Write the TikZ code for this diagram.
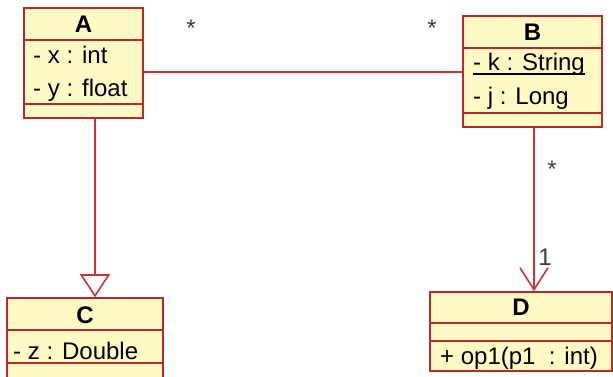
\documentclass[tikz,border=0pt]{standalone}
\usepackage{fontspec}
\setmainfont{Liberation Sans}
\usetikzlibrary{arrows.meta}
\definecolor{bord}{RGB}{185,40,45}
\definecolor{conn}{RGB}{205,50,55}
\definecolor{clsfill}{RGB}{255,250,195}
\definecolor{lbl}{RGB}{60,60,60}
\tikzset{
  cls/.style={draw=bord, fill=clsfill, line width=1.6pt, inner sep=0pt, rectangle},
  sep/.style={draw=bord, line width=1.6pt},
  cname/.style={anchor=base, inner sep=0pt, font=\fontsize{24}{28}\selectfont\bfseries},
  attr/.style={anchor=base west, inner sep=0pt, font=\fontsize{24}{28}\selectfont},
  mult/.style={anchor=center, inner sep=0pt, text=lbl, font=\fontsize{24}{28}\selectfont},
  assoc/.style={draw=conn, line width=1.8pt},
  uline/.style={draw=black, line width=1.2pt},
}
\begin{document}
\begin{tikzpicture}[x=1pt,y=-1pt]
\useasboundingbox (0,0) rectangle (613,376);
% class boxes
\node[cls, minimum width=119pt, minimum height=110pt] (A) at (83.5,63) {};
\node[cls, minimum width=139pt, minimum height=111pt] (B) at (532.5,71.5) {};
\node[cls, minimum width=156pt, minimum height=90pt] (C) at (85,343) {};
\node[cls, minimum width=182pt, minimum height=79pt] (D) at (521,331.5) {};
% compartments
\draw[sep] (A.west |- 0,40) -- (A.east |- 0,40);
\draw[sep] (A.west |- 0,104) -- (A.east |- 0,104);
\draw[sep] (B.west |- 0,48) -- (B.east |- 0,48);
\draw[sep] (B.west |- 0,113) -- (B.east |- 0,113);
\draw[sep] (C.west |- 0,330) -- (C.east |- 0,330);
\draw[sep] (C.west |- 0,363) -- (C.east |- 0,363);
\draw[sep] (D.west |- 0,323) -- (D.east |- 0,323);
\draw[sep] (D.west |- 0,341) -- (D.east |- 0,341);
% texts
\node[cname] (An) at (83.5,32) {A};
\node[attr] (Ax) at (33,63) {- x : int};
\node[attr] (Ay) at (33,96) {- y : float};
\node[cname] (Bn) at (532.5,40) {B};
\node[attr] (Bk) at (473,70) {- k : String};
\draw[uline] ([yshift=-4pt]Bk.base west) -- ([yshift=-4pt]Bk.base east);
\node[attr] (Bj) at (473,104) {- j : Long};
\node[cname] (Cn) at (85,323) {C};
\node[attr] (Cz) at (13,359) {- z : Double};
\node[cname] (Dn) at (521,315) {D};
\node[attr] (Dop) at (440,364) {+ op1(p1\ \ : int)};
% connectors
\coordinate (gx) at (95,0);
\coordinate (nx) at (534,0);
\coordinate (ay) at (0,72);
\draw[assoc] (A.east |- ay) -- (B.west |- ay);
\draw[assoc, -{Triangle[fill=white, width=30pt, length=23pt, line width=1.6pt]}] (A.south -| gx) -- (C.north -| gx);
\draw[assoc, -{Straight Barb[width=28pt, length=22pt, line width=1.6pt]}] (B.south -| nx) -- (D.north -| nx);
% multiplicities
\node[mult] (m1) at (191,28) {*};
\node[mult] (m2) at (432,28) {*};
\node[mult] (m3) at (552,169) {*};
\node[mult] (m4) at (545,257) {1};
\end{tikzpicture}
\end{document}
